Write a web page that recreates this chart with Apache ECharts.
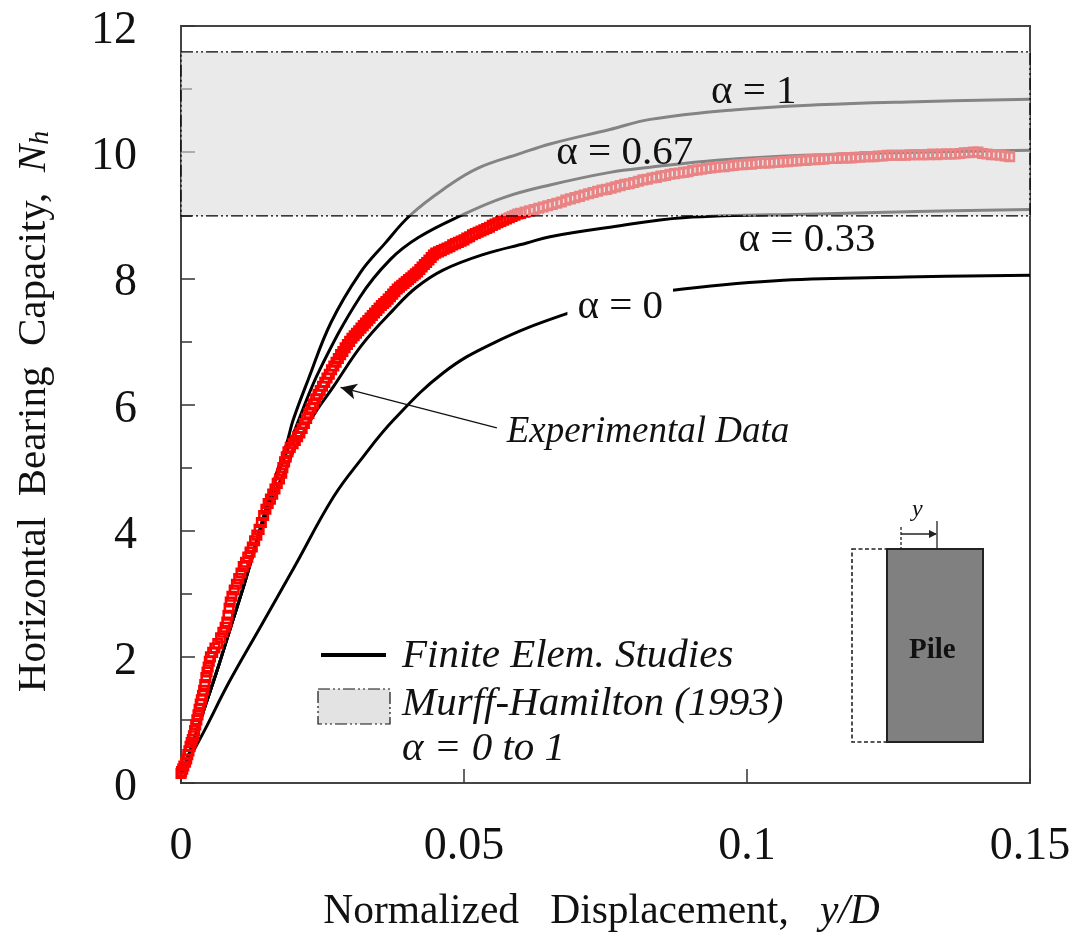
<!DOCTYPE html>
<html>
<head>
<meta charset="utf-8">
<style>html,body{margin:0;padding:0;background:#fff}#c{width:1076px;height:936px}</style>
<script src="https://cdn.jsdelivr.net/npm/echarts@6/dist/echarts.min.js"></script>
</head>
<body>
<div id="c"></div>
<script>
const xTickLabels = {0: '0', 0.05: '0.05', 0.1: '0.1', 0.15: '0.15'};
const bandLow = 8.99, bandHigh = 11.59;

const curveAlpha0 = [[0,0.15],[0.0039,0.79],[0.0085,1.6],[0.014,2.47],[0.02,3.42],[0.0269,4.53],[0.032,5.15],[0.0375,5.75],[0.0463,6.5],[0.0551,6.97],[0.0675,7.42],[0.078,7.68],[0.0887,7.83],[0.1064,7.97],[0.128,8.02],[0.15,8.05]];
const curveAlpha33 = [[0,0.15],[0.002,0.6],[0.004,1.15],[0.0064,1.79],[0.0087,2.45],[0.011,3.1],[0.0134,3.8],[0.0163,4.55],[0.0187,5.0],[0.0198,5.25],[0.0232,5.8],[0.0269,6.28],[0.032,6.95],[0.0375,7.5],[0.0415,7.85],[0.0463,8.13],[0.0535,8.38],[0.0611,8.56],[0.0652,8.66],[0.0758,8.81],[0.0887,8.96],[0.1124,9.02],[0.13,9.06],[0.15,9.09]];
const curveAlpha67 = [[0,0.15],[0.002,0.6],[0.004,1.15],[0.0064,1.79],[0.0087,2.45],[0.011,3.1],[0.0134,3.85],[0.0163,4.7],[0.0187,5.25],[0.021,5.8],[0.0245,6.55],[0.0316,7.7],[0.037,8.3],[0.042,8.65],[0.0496,9.0],[0.057,9.28],[0.0652,9.48],[0.0758,9.68],[0.0829,9.76],[0.0947,9.87],[0.11,9.95],[0.13,10.0],[0.15,10.03]];
const curveAlpha1 = [[0,0.15],[0.002,0.6],[0.004,1.15],[0.0064,1.79],[0.0087,2.45],[0.011,3.1],[0.0134,3.85],[0.0163,4.75],[0.0187,5.39],[0.0198,5.75],[0.0225,6.4],[0.0265,7.3],[0.0316,8.08],[0.036,8.55],[0.0405,9.0],[0.0465,9.42],[0.0523,9.74],[0.06,9.98],[0.0652,10.13],[0.0758,10.36],[0.0829,10.52],[0.0975,10.67],[0.1124,10.75],[0.13,10.8],[0.15,10.84]];

const expLower = [[0,.15],[.0001,.18],[.0003,.22],[.0005,.27],[.0008,.33],[.001,.38],[.0012,.45],[.0014,.51],[.0016,.58],[.0018,.64],[.002,.69],[.0022,.75],[.0024,.83],[.0026,.92],[.0028,1],[.003,1.08],[.0032,1.17],[.0034,1.25],[.0036,1.32],[.0038,1.39],[.004,1.47],[.0042,1.56],[.0044,1.67],[.0046,1.76],[.0048,1.84],[.005,1.93],[.0052,2],[.0056,2.07],[.006,2.14],[.0065,2.21],[.007,2.3],[.0074,2.39],[.0078,2.47],[.0081,2.55],[.0083,2.66],[.0085,2.77],[.0087,2.87],[.009,2.96],[.0094,3.06],[.0098,3.15],[.0102,3.24],[.0106,3.33],[.011,3.43],[.0114,3.5],[.0118,3.58],[.0122,3.66],[.0126,3.74],[.013,3.84],[.0134,3.93],[.0138,4.02],[.0142,4.13],[.0146,4.24],[.015,4.34],[.0154,4.43],[.0158,4.5],[.0162,4.58],[.0166,4.66],[.017,4.75],[.0174,4.82],[.0178,4.91],[.018,5],[.0183,5.09],[.0186,5.17],[.0189,5.25],[.0193,5.32]];
const expMiddle = [[.0198,5.38],[.0202,5.43],[.0206,5.49],[.021,5.55],[.0214,5.62],[.0218,5.7],[.0222,5.78],[.0226,5.86],[.023,5.94],[.0234,6.01],[.0238,6.09],[.0242,6.16],[.0246,6.22],[.025,6.29],[.0254,6.35],[.0258,6.42],[.0262,6.48],[.0266,6.55],[.027,6.61],[.0274,6.67],[.0278,6.73],[.0282,6.79],[.0286,6.84],[.029,6.9],[.0294,6.95],[.0298,7],[.0302,7.05],[.0306,7.09],[.031,7.13],[.0314,7.17],[.0318,7.21],[.0322,7.25],[.0326,7.29],[.033,7.33],[.0334,7.37],[.0338,7.41],[.0342,7.45],[.0346,7.49],[.035,7.53],[.0354,7.57],[.0358,7.6],[.0362,7.63],[.0366,7.67],[.037,7.71],[.0374,7.75],[.0378,7.79],[.0382,7.83],[.0386,7.86],[.039,7.89],[.0394,7.92],[.0398,7.95],[.0402,7.98],[.0406,8.01],[.041,8.04],[.0414,8.07],[.0418,8.1],[.0422,8.14],[.0426,8.18],[.043,8.22],[.0434,8.25],[.0438,8.29],[.0442,8.33],[.0446,8.37],[.045,8.4],[.0455,8.42],[.046,8.44],[.0465,8.46],[.047,8.48],[.0475,8.5],[.048,8.53],[.0485,8.55],[.049,8.57],[.0495,8.59],[.05,8.61],[.0505,8.64],[.051,8.66],[.0515,8.69],[.052,8.71],[.0525,8.73],[.053,8.75],[.0535,8.77],[.054,8.79],[.0545,8.81],[.055,8.84],[.0555,8.86],[.056,8.88],[.0565,8.9],[.057,8.92],[.0575,8.94],[.058,8.96],[.0585,8.98],[.059,9],[.0595,9.02],[.06,9.03]];
const expUpper = [[.0608,9.05],[.0616,9.07],[.0624,9.09],[.0632,9.11],[.064,9.13],[.0648,9.15],[.0656,9.17],[.0664,9.19],[.0672,9.21],[.068,9.24],[.0688,9.26],[.0696,9.28],[.0704,9.3],[.0712,9.32],[.072,9.34],[.0728,9.36],[.0736,9.38],[.0744,9.4],[.0752,9.41],[.076,9.43],[.0768,9.45],[.0776,9.47],[.0784,9.49],[.0792,9.5],[.08,9.52],[.0808,9.54],[.0816,9.56],[.0824,9.57],[.0832,9.59],[.084,9.6],[.0848,9.62],[.0856,9.63],[.0864,9.65],[.0872,9.66],[.088,9.67],[.0888,9.68],[.0896,9.69],[.0904,9.71],[.0912,9.72],[.092,9.73],[.0928,9.74],[.0936,9.75],[.0944,9.76],[.0952,9.77],[.096,9.77],[.0968,9.78],[.0976,9.79],[.0984,9.8],[.0992,9.8],[.1,9.81],[.1008,9.81],[.1016,9.82],[.1024,9.83],[.1032,9.83],[.104,9.83],[.1048,9.84],[.1056,9.84],[.1064,9.85],[.1072,9.85],[.108,9.86],[.1088,9.86],[.1096,9.87],[.1104,9.87],[.1112,9.88],[.112,9.88],[.1128,9.89],[.1136,9.89],[.1144,9.9],[.1152,9.9],[.116,9.9],[.1168,9.91],[.1176,9.91],[.1184,9.91],[.1192,9.92],[.12,9.92],[.1208,9.93],[.1216,9.93],[.1224,9.93],[.1232,9.94],[.124,9.94],[.1248,9.95],[.1256,9.95],[.1264,9.95],[.1272,9.95],[.128,9.95],[.1288,9.96],[.1296,9.96],[.1304,9.96],[.1312,9.96],[.132,9.96],[.1328,9.97],[.1336,9.96],[.1344,9.97],[.1352,9.97],[.136,9.97],[.1368,9.97],[.1376,9.98],[.1384,9.99],[.1392,9.99],[.14,10],[.1408,10],[.1416,9.98],[.1424,9.97],[.1432,9.96],[.144,9.96],[.1448,9.95],[.1456,9.94],[.1464,9.93]];

const alphaLabels = ['α = 1','α = 0.67','α = 0.33','α = 0'];
const alphaLabelX = [0.1012,0.0784,0.1106,0.0776];
const alphaLabelY = [10.95,9.99,8.6,7.54];
const annotationText = 'Experimental Data';
const annotationPoint = [0.0825,5.56];
const arrowHead = [0.0282,6.27];
const arrowTail = [0.0558,5.63];

const SERIF = '"Liberation Serif","Times New Roman",serif';
const dashDot = [12,3,2,3,2,3];

function curve(data){
  return {type:'line',data:data,showSymbol:false,symbol:'none',smooth:0.4,z:2,silent:true,
    lineStyle:{color:'#000',width:3}};
}

const chart = echarts.init(document.getElementById('c'),null,{renderer:'canvas'});
chart.setOption({
  animation:false,
  backgroundColor:'#fff',
  grid:{left:181,top:26,width:849,height:757,outerBoundsMode:'none',show:true,borderColor:'#444',borderWidth:2,backgroundColor:'transparent'},
  xAxis:{type:'value',min:0,max:0.15,interval:0.05,
    axisLine:{show:false},
    axisTick:{show:true,inside:true,length:14,lineStyle:{color:'#333',width:1.5}},
    splitLine:{show:false},
    axisLabel:{fontFamily:SERIF,fontSize:46,color:'#111',margin:41,hideOverlap:false,showMinLabel:true,showMaxLabel:true,
      formatter:v=>xTickLabels[Math.round(v*100)/100]},
    name:'{a|Normalized   Displacement,   }{b|y/D}',nameLocation:'middle',nameGap:108,
    nameTextStyle:{rich:{a:{fontFamily:SERIF,fontSize:41.5,color:'#111'},b:{fontFamily:SERIF,fontSize:41.5,fontStyle:'italic',color:'#111',padding:[0,8,0,0]}}}
  },
  yAxis:{type:'value',min:0,max:12,interval:2,
    axisLine:{show:false},
    axisTick:{show:true,inside:true,length:14,lineStyle:{color:'#333',width:1.5}},
    minorTick:{show:true,splitNumber:2,length:11,lineStyle:{color:'#333',width:1.5}},
    splitLine:{show:false},minorSplitLine:{show:false},
    axisLabel:{margin:44,formatter:v=>'{v|'+v+'}',
      rich:{v:{fontFamily:SERIF,fontSize:46,color:'#111',padding:[10,0,0,0]}}},
    name:'{a|Horizontal  Bearing  Capacity,  }{b|N}{c|h}',nameLocation:'middle',nameGap:126,
    nameTextStyle:{rich:{a:{fontFamily:SERIF,fontSize:41,color:'#111'},b:{fontFamily:SERIF,fontSize:41,fontStyle:'italic',color:'#111'},c:{fontFamily:SERIF,fontSize:28,fontStyle:'italic',color:'#111',verticalAlign:'bottom',padding:[12,14,0,0]}}}
  },
  series:[
    curve(curveAlpha0),curve(curveAlpha33),curve(curveAlpha67),curve(curveAlpha1),
    {type:'scatter',data:expLower.concat(expMiddle,expUpper),symbol:'rect',symbolSize:8.5,z:3,silent:true,clip:false,
      itemStyle:{color:'transparent',borderColor:'#ff0000',borderWidth:2.6,opacity:1}},
    {type:'line',data:[],z:5,silent:true,
      markArea:{silent:true,z:5,itemStyle:{color:'rgba(220,220,220,0.6)',borderColor:'#000',borderWidth:1.3,borderType:dashDot},
        data:[[{xAxis:0,yAxis:bandLow},{xAxis:0.15,yAxis:bandHigh}]]}},
    {type:'scatter',symbolSize:0,z:7,silent:true,itemStyle:{opacity:1},
      data:alphaLabels.map((t,i)=>({value:[alphaLabelX[i],alphaLabelY[i]],
        label:{show:true,position:'inside',formatter:t,fontFamily:SERIF,fontSize:41,color:'#111',
          backgroundColor:i===3?'#fff':'transparent',padding:[0,10,0,10]}})),
      markLine:{silent:true,z:7,symbol:['none','arrow'],symbolSize:[12,16],precision:5,label:{show:false},
        lineStyle:{color:'#111',width:1.3,type:'solid'},
        data:[[{coord:arrowTail},{coord:arrowHead}]]}},
    {type:'scatter',symbolSize:0,z:7,silent:true,itemStyle:{opacity:1},
      data:[{value:annotationPoint,label:{show:true,position:'inside',formatter:annotationText,fontFamily:SERIF,fontStyle:'italic',fontSize:37,color:'#111'}}]}
  ],
  graphic:[
    {type:'line',z:8,shape:{x1:321,y1:655,x2:386,y2:655},style:{stroke:'#000',lineWidth:4}},
    {type:'rect',z:8,shape:{x:318,y:689,width:72,height:35},style:{fill:'#e3e3e3',stroke:'#111',lineWidth:1.2,lineDash:dashDot}},
    {type:'text',z:8,left:402,top:636,style:{text:'Finite Elem. Studies',font:'italic 41px '+SERIF,fill:'#111'}},
    {type:'text',z:8,left:402,top:684,style:{text:'Murff-Hamilton (1993)',font:'italic 41px '+SERIF,fill:'#111'}},
    {type:'text',z:8,left:402,top:729,style:{text:'α = 0 to 1',font:'italic 41px '+SERIF,fill:'#111'}},
    {type:'rect',z:8,shape:{x:852,y:549,width:35,height:193},style:{fill:'#fff',stroke:'#222',lineWidth:1.6,lineDash:[4,2.5]}},
    {type:'rect',z:8,shape:{x:887,y:549,width:96,height:193},style:{fill:'#808080',stroke:'#222',lineWidth:2}},
    {type:'text',z:9,left:909,top:636,style:{text:'Pile',font:'bold 29px '+SERIF,fill:'#111'}},
    {type:'line',z:8,shape:{x1:901,y1:527,x2:901,y2:549},style:{stroke:'#222',lineWidth:1.3,lineDash:[3,2]}},
    {type:'line',z:8,shape:{x1:937,y1:521,x2:937,y2:549},style:{stroke:'#222',lineWidth:1.3}},
    {type:'line',z:8,shape:{x1:901,y1:534,x2:936,y2:534},style:{stroke:'#222',lineWidth:1.3}},
    {type:'polygon',z:8,shape:{points:[[937,534],[929,530],[929,538]]},style:{fill:'#222'}},
    {type:'text',z:8,left:912,top:498,style:{text:'y',font:'italic 24px '+SERIF,fill:'#111'}}
  ]
});
</script>
</body>
</html>
